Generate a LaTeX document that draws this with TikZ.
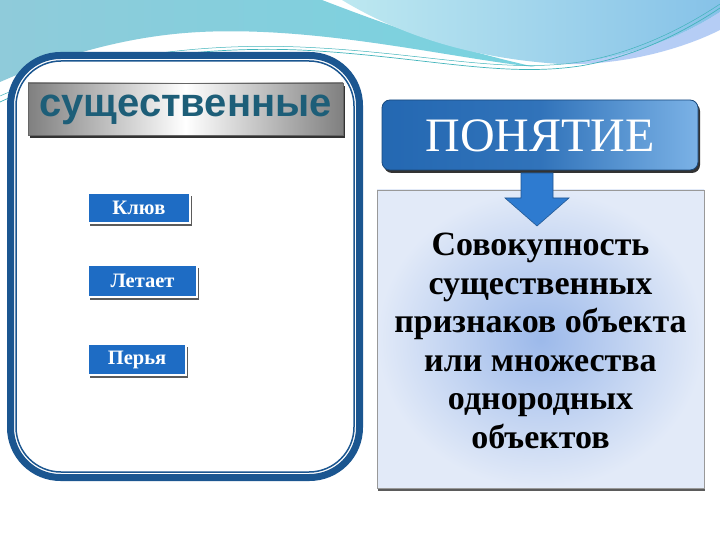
\documentclass[tikz,border=0pt]{standalone}
\usepackage{fontspec}
\setmainfont{Liberation Serif}
\newfontfamily\sansbold{Liberation Sans}
\usetikzlibrary{shadows}
\definecolor{panelblue}{HTML}{1B5690}
\definecolor{titleteal}{HTML}{1D5E78}
\definecolor{boxblue}{HTML}{1E6CC4}
\definecolor{wave1}{HTML}{8FCBDA}
\definecolor{wave2}{HTML}{6ED6E2}
\definecolor{wave3}{HTML}{BDE8F0}
\definecolor{wave4}{HTML}{86C2E8}
\definecolor{defin}{HTML}{9CB9EA}
\definecolor{defout}{HTML}{E2EAF8}
\definecolor{arrowblue}{HTML}{2E7BD0}
\definecolor{concleft}{HTML}{2468B2}
\definecolor{concright}{HTML}{7BB2E6}
\tikzset{
  featbox/.style={fill=boxblue, draw=white, line width=1.5pt, text=white,
    font=\bfseries\fontsize{20.5}{23}\selectfont, inner sep=0pt,
    drop shadow={shadow xshift=2pt, shadow yshift=-3pt, fill=black!80, opacity=0.8}},
}
\begin{document}
\begin{tikzpicture}[x=1pt,y=-1pt]
\useasboundingbox (0,0) rectangle (720,540);
\fill[white] (0,0) rectangle (720,540);
% background waves
\shade[left color=wave1, right color=wave2!70!wave1]
  (0,0) -- (322,0) .. controls (400,30) and (460,50) .. (535,67)
  .. controls (450,58) and (320,26) .. (200,32)
  .. controls (120,36) and (50,60) .. (0,82) -- cycle;
\shade[left color=wave3, right color=wave4]
  (342,0) .. controls (400,35) and (470,58) .. (560,64)
  .. controls (625,60) and (680,38) .. (720,12) -- (720,0) -- cycle;
\fill[wave4!80!blue!70!white, opacity=0.7]
  (560,64) .. controls (625,60) and (680,38) .. (720,12) -- (720,30)
  .. controls (680,50) and (620,66) .. (560,64) -- cycle;
\draw[wave2!60!teal, line width=0.7pt]
  (0,102) .. controls (90,60) and (200,46) .. (300,50)
  .. controls (420,56) and (500,78) .. (580,66)
  .. controls (640,56) and (690,28) .. (720,8);
\draw[wave2!60!teal, line width=0.5pt]
  (0,96) .. controls (90,56) and (200,43) .. (300,47)
  .. controls (420,52) and (500,74) .. (580,62)
  .. controls (640,52) and (690,24) .. (720,4);
% left panel
\draw[panelblue, line width=7pt, fill=white, rounded corners=50pt]
  (10.5,55.5) rectangle (359.5,477.5);
\draw[panelblue, line width=1.5pt, rounded corners=45pt]
  (16,61) rectangle (354,472);
% title
\shade[left color=black!50, right color=black!50, middle color=white,
  drop shadow={shadow xshift=2pt, shadow yshift=-3pt, fill=black, opacity=0.8}]
  (28,83) rectangle (343,135);
\draw[black!60, line width=0.6pt] (28,83) rectangle (343,135);
\node[text=titleteal, font=\sansbold\bfseries\fontsize{40}{44}\selectfont]
  (title) at (185.5,110) {существенные};
% features
\node[featbox, minimum width=102pt, minimum height=30pt] (klyuv) at (139,208) {Клюв};
\node[featbox, minimum width=109pt, minimum height=32pt] (letaet) at (142.5,281) {Летает};
\node[featbox, minimum width=98pt, minimum height=31pt] (perya) at (137,359.5) {Перья};
% definition box
\shade[inner color=defin, outer color=defout,
  drop shadow={shadow xshift=1pt, shadow yshift=-3pt, fill=black!80, opacity=0.8}]
  (377,190) rectangle (704,488);
\draw[black!40, line width=0.8pt] (377,190) rectangle (704,488);
\node[align=center, font=\bfseries\fontsize{34}{38.5}\selectfont, inner sep=0pt]
  (def) at (540.5,341) {Совокупность\\существенных\\признаков объекта\\или множества\\однородных\\объектов};
% concept box
\shade[left color=concleft, right color=concright, middle color=concleft!85!concright,
  rounded corners=8pt,
  drop shadow={shadow xshift=2pt, shadow yshift=-3pt, fill=black, opacity=0.8}]
  (382,100) rectangle (698,170);
\draw[concleft!70!black, line width=0.8pt, rounded corners=8pt] (382,100) rectangle (698,170);
\node[text=white, font=\fontsize{48}{52}\selectfont, inner sep=0pt] (ponyatie) at (540,136) {ПОНЯТИЕ};
\coordinate (pbot) at (540,170);
% arrow
\draw[fill=arrowblue, draw=arrowblue!70!black, line width=0.6pt]
  ([xshift=-19pt,yshift=-3pt]pbot) -- ([xshift=13pt,yshift=-3pt]pbot)
  -- ([xshift=13pt,yshift=-28pt]pbot) -- ([xshift=29pt,yshift=-28pt]pbot)
  -- ([xshift=-3pt,yshift=-56pt]pbot) -- ([xshift=-35pt,yshift=-28pt]pbot)
  -- ([xshift=-19pt,yshift=-28pt]pbot) -- cycle;
\end{tikzpicture}
\end{document}
